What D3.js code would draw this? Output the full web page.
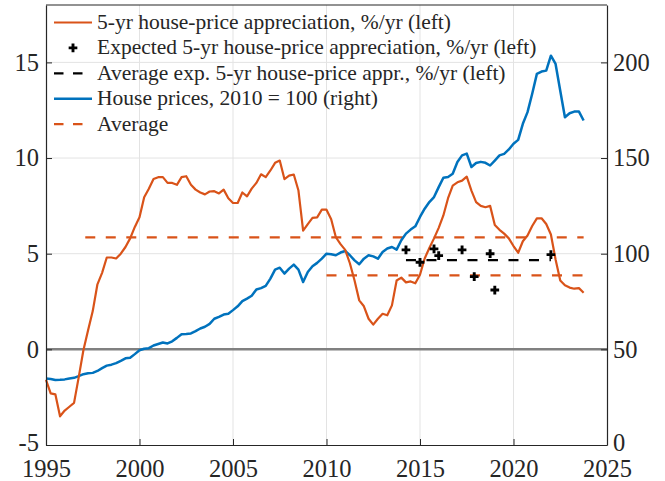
<!DOCTYPE html>
<html>
<head>
<meta charset="utf-8">
<script src="https://cdn.jsdelivr.net/npm/d3@7"></script>
<style>
  body { margin: 0; background: #fff; }
</style>
</head>
<body>
<div id="chart"></div>
<script>
    // quarterly, first value = 1995 Q1
    const startYear = 1995
    const appreciation = [
        -1.6, -2.3, -2.35, -3.5,
        -3.2, -3.0, -2.8, -1.45,
        -0.05, 1.0, 2.0, 3.4,
        4.0, 4.8, 4.8, 4.75,
        5.0, 5.35, 5.8, 6.4,
        6.9, 7.95, 8.4, 8.9,
        9.0, 9.0, 8.7, 8.7,
        8.6, 9.0, 9.05, 8.6,
        8.35, 8.2, 8.1, 8.25,
        8.27, 8.15, 8.35, 7.9,
        7.65, 7.65, 8.2, 8.0,
        8.4, 8.7, 9.15, 9.0,
        9.35, 9.75, 9.87, 8.9,
        9.08, 9.14, 8.3, 6.2,
        6.55, 6.87, 6.9, 7.3,
        7.3, 6.8, 5.86, 5.5,
        5.2, 4.5, 3.6, 2.56,
        2.25, 1.6, 1.29, 1.6,
        1.86, 1.78, 2.3, 3.6,
        3.75, 3.5, 3.55, 3.45,
        3.9, 4.75, 5.3, 5.8,
        6.35, 7.0, 7.9, 8.56,
        8.73, 8.82, 9.03, 8.3,
        7.7, 7.5, 7.43, 7.5,
        6.5, 6.25, 6.05, 5.8,
        5.4, 5.05, 5.65, 5.95,
        6.45, 6.85, 6.85, 6.55,
        6.0, 4.7, 3.6, 3.35,
        3.23, 3.17, 3.2, 2.96
    ]
    const housePrices = [
        34.8, 34.5, 34.0, 34.1,
        34.3, 34.8, 35.1, 36.0,
        37.0, 37.5, 37.7, 38.7,
        40.2, 41.5, 42.0, 42.8,
        44.0, 45.3, 45.6, 47.5,
        49.5, 50.3, 50.6, 52.0,
        52.8, 53.6, 53.1, 54.2,
        56.0, 57.9, 58.0, 58.3,
        59.5, 60.9, 61.8, 63.3,
        66.0, 67.0, 68.2, 68.6,
        70.5, 72.5, 75.2, 76.5,
        78.0, 81.3, 82.0, 83.2,
        87.0, 91.7, 92.7, 89.6,
        92.2, 94.3, 91.7, 85.2,
        90.4, 93.4, 95.2, 97.4,
        100.0, 99.7, 99.2, 100.6,
        101.4, 99.2, 96.5, 94.5,
        97.4, 99.2, 98.6, 97.4,
        100.9, 102.7, 103.5, 102.1,
        107.0, 110.5, 112.6, 114.3,
        119.2, 123.5, 127.0, 129.6,
        134.8, 139.7, 140.1, 141.8,
        147.9, 151.4, 152.3, 145.3,
        147.4, 148.0, 147.5, 146.1,
        148.7, 151.4, 152.2, 154.5,
        157.5, 159.5, 167.9, 174.0,
        183.6, 194.0, 195.2, 195.7,
        203.5, 199.2, 185.2, 171.3,
        173.4, 174.3, 174.3, 169.6
    ]

    const expYears = [2014.25, 2015.0, 2015.75, 2016.0, 2017.25, 2017.9, 2018.75, 2019.0, 2022.0]
    const expValues = [5.2, 4.55, 5.25, 4.9, 5.2, 3.8, 5.0, 3.1, 4.95]
    const expAvgSpan = [2014.25, 2022.0]

    const avgStarts = [1997.1, 2010.0]
    const avgEnds = [2023.75, 2023.75]
    const avgValues = [5.85, 3.87]

    const xTicks = [1995, 2000, 2005, 2010, 2015, 2020, 2025]
    const leftTicks = [-5, 0, 5, 10, 15]
    const rightTicks = [0, 50, 100, 150, 200]

    const legendLabels = [
        "5-yr house-price appreciation, %/yr (left)",
        "Expected 5-yr house-price appreciation, %/yr (left)",
        "Average exp. 5-yr house-price appr., %/yr (left)",
        "House prices, 2010 = 100 (right)",
        "Average"
    ]

    const w = 665
    const h = 481
    const orange = "#D95319"
    const blue = "#0072BD"
    const serif = "'Liberation Serif', 'Times New Roman', 'DejaVu Serif', serif"

    const x = d3.scaleLinear().domain([1995, 2025]).range([46, 607])
    const yL = d3.scaleLinear().domain([-5, 18]).range([445, 5])
    const yR = d3.scaleLinear().domain([0, 230]).range([445, 5])

    const svg = d3.select("#chart")
        .append("svg")
        .attr("width", w)
        .attr("height", h)

    const qYear = i => startYear + i / 4

    // grid
    svg.append("g")
        .selectAll("line")
        .data(xTicks.slice(1, -1))
        .enter()
        .append("line")
        .attr("x1", d => x(d)).attr("x2", d => x(d))
        .attr("y1", yL(18)).attr("y2", yL(-5))
        .attr("stroke", "#e3e3e3")
        .attr("stroke-width", 1)
    svg.append("g")
        .selectAll("line")
        .data(leftTicks.filter(d => d > 0))
        .enter()
        .append("line")
        .attr("x1", x(1995)).attr("x2", x(2025))
        .attr("y1", d => yL(d)).attr("y2", d => yL(d))
        .attr("stroke", "#e3e3e3")
        .attr("stroke-width", 1)

    // zero line
    svg.append("line")
        .attr("x1", x(1995)).attr("x2", x(2025))
        .attr("y1", yL(0)).attr("y2", yL(0))
        .attr("stroke", "#808080")
        .attr("stroke-width", 2.5)

    // average lines
    svg.append("g")
        .selectAll("line")
        .data(avgValues)
        .enter()
        .append("line")
        .attr("x1", (d, i) => x(avgStarts[i]))
        .attr("x2", (d, i) => x(avgEnds[i]))
        .attr("y1", d => yL(d)).attr("y2", d => yL(d))
        .attr("stroke", orange)
        .attr("stroke-width", 2.2)
        .attr("stroke-dasharray", "10,10.5")

    const expAvg = d3.mean(expValues)
    svg.append("line")
        .attr("x1", x(expAvgSpan[0])).attr("x2", x(expAvgSpan[1]))
        .attr("y1", yL(expAvg)).attr("y2", yL(expAvg))
        .attr("stroke", "#000")
        .attr("stroke-width", 2.2)
        .attr("stroke-dasharray", "10,10.5")

    const lineL = d3.line().x((d, i) => x(qYear(i))).y(d => yL(d))
    const lineR = d3.line().x((d, i) => x(qYear(i))).y(d => yR(d))

    svg.append("path")
        .datum(housePrices)
        .attr("d", lineR)
        .attr("fill", "none")
        .attr("stroke", blue)
        .attr("stroke-width", 2.5)
        .attr("stroke-linejoin", "round")

    svg.append("path")
        .datum(appreciation)
        .attr("d", lineL)
        .attr("fill", "none")
        .attr("stroke", orange)
        .attr("stroke-width", 2.2)
        .attr("stroke-linejoin", "round")

    const cross = d3.symbol().type(d3.symbolCross).size(42)
    svg.append("g")
        .selectAll("path")
        .data(expValues)
        .enter()
        .append("path")
        .attr("d", cross)
        .attr("transform", (d, i) => `translate(${x(expYears[i])},${yL(d)})`)
        .attr("fill", "#000")

    // axes
    const axL = svg.append("g")
        .attr("transform", `translate(${x(1995)},0)`)
        .call(d3.axisLeft(yL).tickValues(leftTicks).tickSize(-6).tickSizeOuter(0).tickPadding(7))
    const axR = svg.append("g")
        .attr("transform", `translate(${x(2025)},0)`)
        .call(d3.axisRight(yR).tickValues(rightTicks).tickSize(-6).tickSizeOuter(0).tickPadding(6))
    const axB = svg.append("g")
        .attr("transform", `translate(0,${yL(-5)})`)
        .call(d3.axisBottom(x).tickValues(xTicks).tickFormat(d3.format("d")).tickSize(-6).tickSizeOuter(0).tickPadding(15))

    ;[axL, axR, axB].forEach(a => {
        a.attr("font-family", null).attr("font-size", null)
        a.selectAll("text")
            .style("font-family", serif)
            .style("font-size", "24.5px")
            .attr("fill", "#262626")
        a.selectAll("line").attr("stroke", "#262626")
        a.select(".domain").attr("stroke", "#262626").attr("stroke-width", 1.2)
    })
    axL.selectAll("text").text(d => d < 0 ? "-" + Math.abs(d) : d)
    // lowest labels on both y axes sit a touch higher so they clear the year labels
    axL.selectAll(".tick text").filter(d => d === leftTicks[0]).attr("dy", "0.22em")
    axR.selectAll(".tick text").filter(d => d === rightTicks[0]).attr("dy", "0.22em")

    svg.append("line")
        .attr("x1", x(1995)).attr("x2", x(2025))
        .attr("y1", yL(18)).attr("y2", yL(18))
        .attr("stroke", "#262626")
        .attr("stroke-width", 1.2)

    // legend
    const leg = svg.append("g")
    const rowY = i => 22.5 + i * 25.4
    leg.selectAll("text")
        .data(legendLabels)
        .enter()
        .append("text")
        .text(d => d)
        .attr("x", 97)
        .attr("y", (d, i) => rowY(i))
        .attr("dy", "0.3em")
        .attr("fill", "#262626")
        .style("font-family", serif)
        .style("font-size", "21.5px")

    leg.append("line").attr("x1", 54).attr("x2", 92).attr("y1", rowY(0)).attr("y2", rowY(0))
        .attr("stroke", orange).attr("stroke-width", 2.2)
    leg.append("path").attr("d", cross).attr("transform", `translate(73,${rowY(1)})`).attr("fill", "#000")
    leg.append("line").attr("x1", 54).attr("x2", 83).attr("y1", rowY(2)).attr("y2", rowY(2))
        .attr("stroke", "#000").attr("stroke-width", 2.2).attr("stroke-dasharray", "9.5,9.5")
    leg.append("line").attr("x1", 54).attr("x2", 92).attr("y1", rowY(3)).attr("y2", rowY(3))
        .attr("stroke", blue).attr("stroke-width", 2.5)
    leg.append("line").attr("x1", 54).attr("x2", 83).attr("y1", rowY(4)).attr("y2", rowY(4))
        .attr("stroke", orange).attr("stroke-width", 2.2).attr("stroke-dasharray", "9.5,9.5")
</script>
</body>
</html>
